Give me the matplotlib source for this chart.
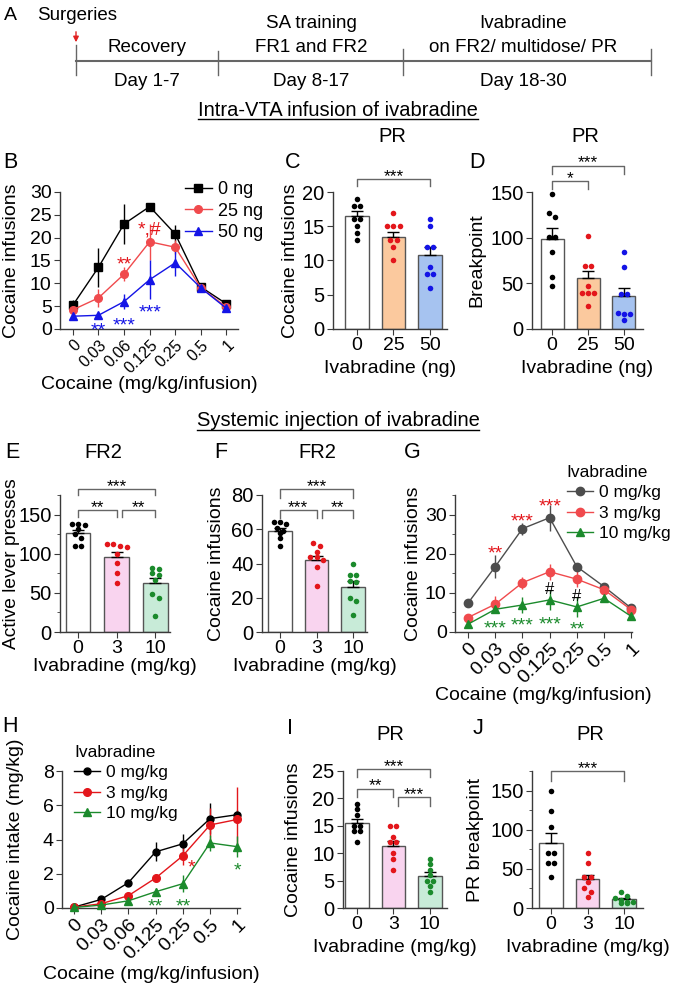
import numpy as np
import matplotlib
matplotlib.use("Agg")
import matplotlib.pyplot as plt
from matplotlib.lines import Line2D
from matplotlib.ticker import MultipleLocator

W, H = 675, 983

INK = "#000000"
AXIS = "#3a3a3a"
EDGE = "#555555"
BRACKET = "#666666"
RED = "#E3161B"
RED_LINE = "#F04A4D"
BLUE = "#1414E6"
GREEN = "#1B8A2C"
GRAY_G = "#4D4D4D"
ORANGE_FILL = "#FBC99E"
BLUE_FILL = "#A6C3F0"
PINK_FILL = "#F9D4EF"
GREEN_FILL = "#C8EBD8"

plt.rcParams.update(
    {
        "font.family": ["Liberation Sans", "DejaVu Sans"],
        "font.size": 14,
        "axes.linewidth": 1.0,
        "axes.edgecolor": AXIS,
        "axes.labelsize": 14,
        "xtick.labelsize": 14,
        "ytick.labelsize": 14,
        "xtick.color": AXIS,
        "ytick.color": AXIS,
        "xtick.labelcolor": INK,
        "ytick.labelcolor": INK,
        "xtick.major.size": 4,
        "ytick.major.size": 4,
        "ytick.minor.size": 2.5,
        "xtick.major.pad": 2,
        "ytick.major.pad": 2,
    }
)

# ---- data -------------------------------------------------------------
DOSES = ["0", "0.03", "0.06", "0.125", "0.25", "0.5", "1"]

# B: intra-VTA, dose-response
B_0NG = [5.2, 13.5, 23.0, 26.8, 20.8, 9.2, 5.5]
B_0NG_ERR = [1.2, 4.2, 4.3, 0.9, 2.0, 0.5, 0.7]
B_25NG = [4.2, 6.8, 12.0, 19.1, 17.9, 9.0, 4.8]
B_25NG_ERR = [0.5, 2.0, 1.5, 3.9, 1.5, 0.5, 0.5]
B_50NG = [2.8, 3.0, 6.0, 10.8, 14.5, 9.0, 4.5]
B_50NG_ERR = [0.6, 0.5, 1.7, 4.3, 2.8, 0.5, 0.4]

NG_GROUPS = ["0", "25", "50"]
MGKG_GROUPS = ["0", "3", "10"]

# C: PR cocaine infusions (intra-VTA)
C_MEAN = [16.5, 13.5, 10.8]
C_SEM = [0.7, 0.7, 1.1]
C_PTS = [[19, 18, 18, 16, 16, 15, 14, 13],
         [17, 15, 15, 15, 13, 13, 12, 10],
         [16, 15, 12, 12, 9, 8, 8, 6]]

# D: PR breakpoint (intra-VTA)
D_MEAN = [99, 56, 36]
D_SEM = [12, 8, 9]
D_PTS = [[148, 127, 123, 101, 101, 84, 57, 47],
         [102, 69, 69, 47, 39, 39, 39, 25],
         [84, 68, 38, 38, 18, 16, 16, 10]]

# E: FR2 active lever presses (systemic)
E_MEAN = [126, 96, 62]
E_SEM = [4, 6, 7]
E_PTS = [[138, 138, 137, 131, 125, 120, 110, 110],
         [112, 112, 110, 108, 100, 88, 76, 62],
         [82, 80, 76, 73, 66, 48, 43, 21]]

# F: FR2 cocaine infusions (systemic)
F_MEAN = [59, 42, 26.5]
F_SEM = [1.6, 2.5, 3.0]
F_PTS = [[64, 64, 63, 61, 59, 58, 55, 50],
         [52, 50, 47, 44, 44, 42, 38, 27],
         [40, 33, 33, 30, 29, 20, 18, 10]]

# G: systemic dose-response, infusions
G_0 = [7.4, 16.7, 26.4, 29.2, 16.7, 11.6, 6.1]
G_0_ERR = [0.5, 2.9, 1.5, 3.3, 1.0, 0.8, 0.5]
G_3 = [3.7, 7.1, 12.6, 15.4, 13.5, 10.8, 5.7]
G_3_ERR = [0.5, 2.0, 1.5, 2.0, 2.0, 0.8, 0.5]
G_10 = [2.0, 5.8, 6.9, 8.2, 6.4, 8.6, 4.0]
G_10_ERR = [0.4, 1.0, 2.0, 2.5, 2.5, 0.5, 0.4]

# H: systemic dose-response, intake
H_0 = [0.05, 0.5, 1.48, 3.28, 3.75, 5.22, 5.45]
H_0_ERR = [0.02, 0.05, 0.1, 0.55, 0.6, 0.9, 0.3]
H_3 = [0.05, 0.25, 0.72, 1.75, 3.05, 4.85, 5.17]
H_3_ERR = [0.02, 0.05, 0.08, 0.25, 0.55, 1.0, 1.9]
H_10 = [0.03, 0.17, 0.42, 0.95, 1.42, 3.8, 3.58]
H_10_ERR = [0.02, 0.03, 0.06, 0.2, 0.5, 0.45, 0.6]

# I: PR cocaine infusions (systemic)
I_MEAN = [15.5, 11.3, 5.9]
I_SEM = [0.8, 0.9, 0.7]
I_PTS = [[19, 18, 17, 15, 15, 14, 14, 12],
         [15, 15, 13, 12, 12, 10, 9, 7],
         [9, 8, 7, 6, 5, 5, 4, 3]]

# J: PR breakpoint (systemic)
J_MEAN = [83, 37, 11]
J_SEM = [13, 5.5, 2]
J_PTS = [[149, 124, 103, 70, 70, 58, 58, 39],
         [70, 57, 39, 39, 33, 26, 21, 14],
         [20, 15, 13, 10, 8, 8, 7, 6]]


# ---- helpers ----------------------------------------------------------
def add_ax(fig, x0, y0, x1, y1):
    ax = fig.add_axes([x0 / W, 1 - y1 / H, (x1 - x0) / W, (y1 - y0) / H])
    ax.set_facecolor("none")
    for side in ("top", "right"):
        ax.spines[side].set_visible(False)
    ax._px_h = y1 - y0
    return ax


def place_labels(ax, xlabel, ylabel, xl_y, yl_x, ysize=14):
    ax.set_xlabel(xlabel, va="center")
    ax.xaxis.set_label_coords(0.5, xl_y)
    ax.set_ylabel(ylabel, va="center", fontsize=ysize)
    ax.yaxis.set_label_coords(yl_x, 0.5)


def swarm_offsets(values, px_per_unit, row_px=4.5, step=0.17):
    order = np.argsort(values, kind="stable")[::-1]
    offs = np.zeros(len(values))
    rows = []
    for i in order:
        if rows and abs(values[rows[-1][0]] - values[i]) * px_per_unit < row_px:
            rows[-1].append(i)
        else:
            rows.append([i])
    for row in rows:
        n = len(row)
        for k, i in enumerate(row):
            offs[i] = (k - (n - 1) / 2) * step
    return offs


def bracket(ax, i, j, y, drop, label):
    ax.plot([i, i, j, j], [y - drop, y, y, y - drop], color=BRACKET, lw=1.0, clip_on=False)
    ax.annotate(label, ((i + j) / 2, y), xytext=(0, -1.5), textcoords="offset points",
                ha="center", va="baseline", fontsize=12.5, color=INK, annotation_clip=False)


def star(ax, x, y, s, color, size=14):
    shift = -0.36 * size if s.startswith("#") else -0.55 * size
    ax.annotate(s, (x, y), xytext=(0, shift), textcoords="offset points", ha="center",
                va="baseline", fontsize=size, color=color, annotation_clip=False)


def bar_panel(ax, groups, means, sems, pts, fills, dots, ylim, xlim, major, minor=None):
    x = np.arange(len(groups))
    ax.bar(x, means, width=0.64, color=fills, edgecolor=EDGE, linewidth=1.0, zorder=1)
    ax.errorbar(x, means, yerr=[np.zeros(len(sems)), sems], fmt="none", ecolor=INK,
                elinewidth=1.0, capsize=4, capthick=1.0, zorder=2)
    px_per_unit = ax._px_h / (ylim[1] - ylim[0])
    for xi, vals, c in zip(x, pts, dots):
        vals = np.asarray(vals, dtype=float)
        offs = swarm_offsets(vals, px_per_unit)
        ax.scatter(xi + offs, vals, s=16, color=c, zorder=3, linewidths=0, clip_on=False)
    ax.set_xlim(*xlim)
    ax.set_ylim(*ylim)
    ax.set_xticks(x, groups)
    ax.tick_params(axis="y", labelsize=14.5)
    ax.yaxis.set_major_locator(MultipleLocator(major))
    if minor:
        ax.yaxis.set_minor_locator(MultipleLocator(minor))


def dose_axes(ax, ylim, major, minor=None, xlim=(-0.5, 6.5), tick_size=14):
    ax.set_xlim(*xlim)
    ax.set_ylim(*ylim)
    ax.set_xticks(np.arange(len(DOSES)), DOSES, rotation=45, ha="right",
                  rotation_mode="anchor", fontsize=tick_size)
    ax.yaxis.set_major_locator(MultipleLocator(major))
    if minor:
        ax.yaxis.set_minor_locator(MultipleLocator(minor))


def series(ax, vals, errs, color, line, marker, ms, label):
    x = np.arange(len(vals))
    ax.errorbar(x, vals, yerr=errs, color=line, ecolor=line, marker=marker, ms=ms,
                mfc=color, mec=color, lw=1.0, elinewidth=1.0, capsize=0,
                clip_on=False, zorder=3)
    return Line2D([], [], color=line, marker=marker, ms=ms, mfc=color, mec=color,
                  lw=1.0, label=label)


def legend(ax, handles, anchor, loc, title=None):
    kw = dict(title=title, title_fontsize=12.5, alignment="left") if title else {}
    ax.legend(handles=handles, loc=loc, bbox_to_anchor=anchor, frameon=False,
              fontsize=12.5 if title else 13, handlelength=1.5, handletextpad=0.35,
              labelspacing=0.3 if title else 0.25, borderpad=0, borderaxespad=0, **kw)


# ---- figure -----------------------------------------------------------
fig = plt.figure(figsize=(W / 100, H / 100), dpi=100)
ov = fig.add_axes([0, 0, 1, 1], zorder=10)
ov.set_xlim(0, W)
ov.set_ylim(H, 0)
ov.axis("off")

# A: timeline
ov.plot([76, 651], [61, 61], color="#666666", lw=1.5)
for tx, top in [(76, 45), (218, 51), (403, 49), (651, 49)]:
    ov.plot([tx, tx], [top, 75], color="#666666", lw=1.0)
ov.annotate("", xy=(76, 45), xytext=(76, 29),
            arrowprops=dict(arrowstyle="-|>", color="#E02020", lw=1.0, mutation_scale=8))
ov.text(4, 15, "A", fontsize=14, va="center", ha="left")
ov.text(37, 15, "Surgeries", fontsize=13.5, va="center", ha="left")
for cx, lines, day in [(147, ["Recovery"], "Day 1-7"),
                       (311, ["SA training", "FR1 and FR2"], "Day 8-17"),
                       (523, ["Ivabradine", "on FR2/ multidose/ PR"], "Day 18-30")]:
    for k, t in enumerate(lines[::-1]):
        ov.text(cx, 48 - 24 * k, t, fontsize=13.5, ha="center", va="center")
    ov.text(cx, 81, day, fontsize=13.5, ha="center", va="center")

headings = [ov.text(338, 110, "Intra-VTA infusion of ivabradine", fontsize=14.5,
                    ha="center", va="center"),
            ov.text(338, 421, "Systemic injection of ivabradine", fontsize=14.5,
                    ha="center", va="center")]

for letter, lx, ly in [("B", 10, 163), ("C", 293, 163), ("D", 477, 163),
                       ("E", 12, 453), ("F", 221, 453), ("G", 412, 453),
                       ("H", 10, 727), ("I", 290, 728), ("J", 478, 728)]:
    ov.text(lx, ly, letter, fontsize=15.5, ha="center", va="center")

for t, tx, ty in [("PR", 392, 137), ("PR", 585, 137), ("FR2", 103, 453),
                  ("FR2", 317, 453), ("PR", 390, 735), ("PR", 590, 735)]:
    ov.text(tx, ty, t, fontsize=14.5, ha="center", va="center")

# B
ax = add_ax(fig, 60, 192, 238, 329)
hb = [series(ax, B_0NG, B_0NG_ERR, INK, INK, "s", 5.5, "0 ng"),
      series(ax, B_25NG, B_25NG_ERR, RED_LINE, RED_LINE, "o", 5.5, "25 ng"),
      series(ax, B_50NG, B_50NG_ERR, BLUE, BLUE, "^", 5.5, "50 ng")]
dose_axes(ax, (0, 30), 5, xlim=(-0.5, 6.45), tick_size=11.5)
place_labels(ax, "Cocaine (mg/kg/infusion)", "Cocaine infusions", -0.405, -0.275)
legend(ax, hb, (0.70, 0.86), "center left")
star(ax, 2, 15.4, "**", RED)
star(ax, 3, 23.1, "*,#", RED)
star(ax, 1, 1.0, "**", BLUE)
star(ax, 2, 2.1, "***", BLUE)
star(ax, 3, 4.9, "***", BLUE)

# C
ax = add_ax(fig, 333, 192, 447, 329)
bar_panel(ax, NG_GROUPS, C_MEAN, C_SEM, C_PTS, ["white", ORANGE_FILL, BLUE_FILL],
          [INK, RED, BLUE], (0, 20), (-0.66, 2.47), 5)
place_labels(ax, "Ivabradine (ng)", "Cocaine infusions", -0.285, -0.377)
bracket(ax, 0, 2, 21.9, 1.0, "***")

# D
ax = add_ax(fig, 532, 192, 643, 329)
bar_panel(ax, NG_GROUPS, D_MEAN, D_SEM, D_PTS, ["white", ORANGE_FILL, BLUE_FILL],
          [INK, RED, BLUE], (0, 150), (-0.56, 2.53), 50)
place_labels(ax, "Ivabradine (ng)", "Breakpoint", -0.285, -0.495)
bracket(ax, 0, 1, 161.5, 8.5, "*")
bracket(ax, 0, 2, 179, 9, "***")

# E
ax = add_ax(fig, 60, 495, 170, 632)
bar_panel(ax, MGKG_GROUPS, E_MEAN, E_SEM, E_PTS, ["white", PINK_FILL, GREEN_FILL],
          [INK, RED, GREEN], (0, 175), (-0.47, 2.38), 50, 25)
place_labels(ax, "Ivabradine (mg/kg)", "Active lever presses", -0.255, -0.44, ysize=13.8)
bracket(ax, 0, 2, 183, 8.5, "***")
bracket(ax, 0, 1, 156, 9, "**")
bracket(ax, 1.14, 2, 156, 9, "**")

# F
ax = add_ax(fig, 262, 495, 367, 632)
bar_panel(ax, MGKG_GROUPS, F_MEAN, F_SEM, F_PTS, ["white", PINK_FILL, GREEN_FILL],
          [INK, RED, GREEN], (0, 80), (-0.49, 2.38), 20)
place_labels(ax, "Ivabradine (mg/kg)", "Cocaine infusions", -0.255, -0.43)
bracket(ax, 0, 2, 83.5, 5.5, "***")
bracket(ax, 0, 1, 71.3, 4.9, "***")
bracket(ax, 1.14, 2, 71.3, 4.9, "**")

# G
ax = add_ax(fig, 455, 495, 632, 632)
hg = [series(ax, G_0, G_0_ERR, GRAY_G, GRAY_G, "o", 6, "0 mg/kg"),
      series(ax, G_3, G_3_ERR, RED_LINE, RED_LINE, "o", 6, "3 mg/kg"),
      series(ax, G_10, G_10_ERR, GREEN, GREEN, "^", 6, "10 mg/kg")]
dose_axes(ax, (0, 35), 10, 5, xlim=(-0.48, 6.03))
place_labels(ax, "Cocaine (mg/kg/infusion)", "Cocaine infusions", -0.46, -0.237)
legend(ax, hg, (0.63, 1.22), "upper left", title="Ivabradine")
star(ax, 1, 21.4, "**", RED)
star(ax, 2, 29.6, "***", RED)
star(ax, 3, 33.6, "***", RED)
star(ax, 3, 11.2, "#", INK, 12)
star(ax, 4, 9.5, "#", INK, 12)
star(ax, 1, 2.3, "***", GREEN)
star(ax, 2, 3.0, "***", GREEN)
star(ax, 3, 3.3, "***", GREEN)
star(ax, 4, 2.1, "**", GREEN)

# H
ax = add_ax(fig, 62, 771, 240, 908)
hh = [series(ax, H_0, H_0_ERR, INK, INK, "o", 5, "0 mg/kg"),
      series(ax, H_3, H_3_ERR, RED, RED, "o", 5.5, "3 mg/kg"),
      series(ax, H_10, H_10_ERR, GREEN, GREEN, "^", 5.5, "10 mg/kg")]
dose_axes(ax, (0, 8), 2, xlim=(-0.44, 6.1))
place_labels(ax, "Cocaine (mg/kg/infusion)", "Cocaine intake (mg/kg)", -0.489, -0.264)
legend(ax, hh, (0.067, 1.19), "upper left", title="Ivabradine")
star(ax, 3, 0.45, "**", GREEN)
star(ax, 4, 0.4, "**", GREEN)
star(ax, 4.3, 2.7, "*", RED)
star(ax, 6, 2.5, "*", GREEN)

# I
ax = add_ax(fig, 343, 771, 447, 908)
bar_panel(ax, MGKG_GROUPS, I_MEAN, I_SEM, I_PTS, ["white", PINK_FILL, GREEN_FILL],
          [INK, RED, GREEN], (0, 25), (-0.38, 2.47), 5)
place_labels(ax, "Ivabradine (mg/kg)", "Cocaine infusions", -0.285, -0.48)
bracket(ax, 0, 2, 25.4, 1.5, "***")
bracket(ax, 0, 1, 21.8, 1.5, "**")
bracket(ax, 1.14, 2, 20.3, 1.7, "***")

# J
ax = add_ax(fig, 532, 771, 643, 908)
bar_panel(ax, MGKG_GROUPS, J_MEAN, J_SEM, J_PTS, ["white", PINK_FILL, GREEN_FILL],
          [INK, RED, GREEN], (0, 175), (-0.52, 2.52), 50, 25)
place_labels(ax, "Ivabradine (mg/kg)", "PR breakpoint", -0.29, -0.505)
bracket(ax, 0, 2, 174.5, 12, "***")

# underline section headings
fig.canvas.draw()
renderer = fig.canvas.get_renderer()
for t in headings:
    bb = t.get_window_extent(renderer)
    y = H - bb.y0 - 1
    ov.plot([bb.x0, bb.x1], [y, y], color=INK, lw=1.0)

fig.savefig("out.png", dpi=100)
